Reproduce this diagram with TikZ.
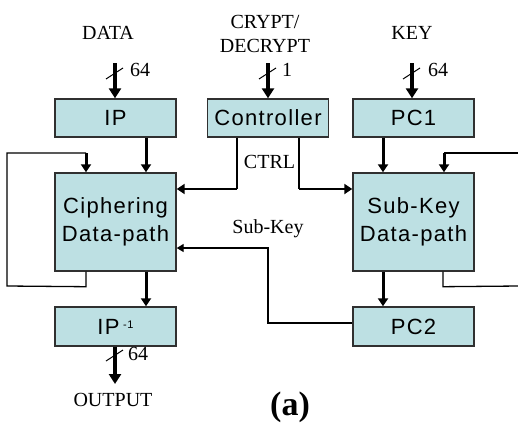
\documentclass[tikz,border=0pt]{standalone}
\usepackage{fontspec}
\setmainfont{Liberation Serif}
\newfontfamily\boxfont[LetterSpace=6]{Liberation Sans}
\usetikzlibrary{arrows.meta}
\definecolor{boxfill}{HTML}{BDE0E3}
\definecolor{boxline}{HTML}{303030}
\tikzset{
  blk/.style={draw=boxline, line width=1.4pt, fill=boxfill, minimum width=121pt, inner sep=0pt,
              font=\boxfont\fontsize{22}{28}\selectfont, align=center},
  lbl/.style={font=\fontsize{20}{24}\selectfont, inner sep=0pt, align=center},
  bus/.style={line width=4.5pt, -{Triangle[width=12pt,length=10pt]}},
  arr/.style={line width=3pt, -{Triangle[width=10pt,length=8pt]}},
  thinline/.style={line width=1.3pt},
  thinarr/.style={line width=1.3pt, -{Triangle[width=8pt,length=7pt]}},
  tick/.style={line width=1pt},
}
\begin{document}
\begin{tikzpicture}[x=1pt,y=-1pt]
\useasboundingbox (0,0) rectangle (518,423);
% boxes
\node[blk, minimum height=38pt] (ip) at (115.5,118) {IP};
\node[blk, minimum height=38pt] (ctl) at (268,118) {Controller};
\node[blk, minimum height=38pt] (pc1) at (413.5,118) {PC1};
\node[blk, minimum height=98pt] (ciph) at (115.5,222) {Ciphering\\Data-path};
\node[blk, minimum height=98pt] (skd) at (413.5,222) {Sub-Key\\Data-path};
\node[blk, minimum height=39pt] (ipi) at (115.5,326.5) {IP\,\raisebox{6pt}{\fontsize{11}{11}\selectfont -1}};
\node[blk, minimum height=39pt] (pc2) at (413.5,326.5) {PC2};
% labels
\node[lbl] (data) at (108,33) {DATA};
\node[lbl] (crypt) at (265,34) {CRYPT/\\DECRYPT};
\node[lbl] (key) at (412,33) {KEY};
\node[lbl] (out) at (113,400) {OUTPUT};
\node[lbl] (ctrl) at (269.5,162) {CTRL};
\node[lbl] (sk) at (268,229) {Sub-Key};
\node[lbl, font=\bfseries\fontsize{34}{34}\selectfont] (cap) at (290,407) {(a)};
\node[lbl] (w1) at (140,70) {64};
\node[lbl] (w2) at (287,70) {1};
\node[lbl] (w3) at (438,70) {64};
\node[lbl] (w4) at (138,354) {64};
% bus inputs
\coordinate (din) at (115,63);
\coordinate (cin) at (268,63);
\coordinate (kin) at (412,63);
\draw[bus] (din) -- (din |- ip.north);
\draw[bus] (cin) -- (cin |- ctl.north);
\draw[bus] (kin) -- (kin |- pc1.north);
\draw[tick] (106,79) -- (123,68);
\draw[tick] (259,79) -- (276,68);
\draw[tick] (403,79) -- (420,68);
% output bus
\coordinate (dout) at (115,384);
\draw[bus] (ipi.south -| dout) -- (dout);
\draw[tick] (106,361) -- (123,350);
% internal arrows
\draw[arr] ([xshift=30.5pt]ip.south) -- ([xshift=30.5pt]ciph.north);
\draw[arr] ([xshift=30.5pt]ciph.south) -- ([xshift=30.5pt]ipi.north);
\draw[arr] ([xshift=-30.5pt]pc1.south) -- ([xshift=-30.5pt]skd.north);
\draw[arr] ([xshift=-30.5pt]skd.south) -- ([xshift=-30.5pt]pc2.north);
% left feedback loop
\coordinate (lb) at (7,286);
\coordinate (lt) at (7,153);
\coordinate (lc) at (86,153);
\draw[thinline] ([xshift=-29.5pt]ciph.south) -- ++(0,15) -- (lb) -- (lt) -- (lc);
\draw[arr] (lc) -- (lc |- ciph.north);
% right feedback loop
\coordinate (rt) at (519,153);
\coordinate (rc) at (444,153);
\coordinate (rb) at (519,286);
\draw[thinline] (rt) -- (rc);
\draw[arr] (rc) -- (rc |- skd.north);
\draw[thinline] ([xshift=29.5pt]skd.south) -- ++(0,15) -- (rb);
% controller lines
\coordinate (cl) at (237,189);
\coordinate (cr) at (299,189);
\draw[thinline] (cl |- ctl.south) -- (cl);
\draw[line width=2.2pt, -{Triangle[width=10pt,length=8pt]}] (cl) -- (cl -| ciph.east);
\draw[thinline] (cr |- ctl.south) -- (cr);
\draw[line width=2.2pt, -{Triangle[width=10pt,length=8pt]}] (cr) -- (cr -| skd.west);
% sub-key line
\coordinate (s1) at (268,323);
\coordinate (s2) at (268,248);
\draw[thinarr] (pc2.west |- s1) -- (s1) -- (s2) -- (s2 -| ciph.east);
\end{tikzpicture}
\end{document}
